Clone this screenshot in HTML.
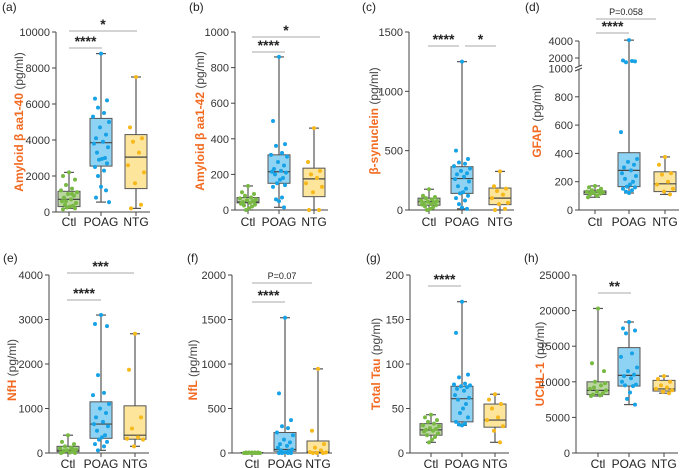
<!DOCTYPE html>
<html><head><meta charset="utf-8"><style>
html,body{margin:0;padding:0;background:#fff}
svg{display:block;font-family:"Liberation Sans",Arial,sans-serif}
</style></head><body>
<svg id="fig" width="683" height="468" viewBox="0 0 683 468"></svg>
<script>
const categories = ["Ctl","POAG","NTG"];
// box stats: [min, q1, median, q3, max] per category
const statsA = [[200,300,700,1150,2200],[550,2550,3850,5200,8800],[200,1300,3050,4300,7500]];
const statsB = [[0,40,45,70,135],[15,150,215,310,860],[0,75,175,235,460]];
const statsC = [[0,40,70,100,175],[10,140,265,365,1250],[0,45,100,185,325]];
const statsD = [[90,110,125,135,170],[120,165,280,405,4100],[110,130,185,270,375]];
const statsE = [[0,30,60,150,400],[60,330,650,1150,3100],[150,310,400,1060,2680]];
const statsF = [[0,0,0,5,5],[0,20,40,230,1520],[0,5,10,135,945]];
const statsG = [[12,20,26,33,43],[31,35,61,75,170],[12,29,37,55,66]];
const statsH = [[8000,8200,8800,10000,20300],[6800,9400,10900,14800,18400],[8400,8700,9000,10200,10800]];
// individual points
const ptsA = [[2200,2000,1800,1500,1300,1200,1100,1000,900,800,700,600,500,400,350,300,250,200,150,1000,600],[8800,6300,6200,5800,5500,5300,5000,4700,4300,4100,3900,3800,3600,3300,3000,2950,2900,2700,2500,2300,2000,1400,1200,800,550],[7500,4700,4100,3900,3300,2600,2200,1600,400,200]];
const ptsB = [[135,100,90,80,70,65,60,55,50,45,40,35,30,25,20,10,0,50,40],[860,500,370,360,320,310,300,270,250,230,220,215,210,200,180,170,150,140,130,70,60,50,15],[460,270,220,200,180,150,130,100,0,0]];
const ptsC = [[175,120,110,100,90,80,75,70,65,60,50,45,40,30,20,10,0],[1250,500,430,400,390,370,350,330,310,300,280,260,240,200,180,150,140,120,100,80,50,20,10],[325,200,180,160,130,100,60,50,10,0]];
const ptsD = [[170,160,150,140,135,130,125,120,115,110,100,90,130,120],[4100,1700,1600,1500,1650,550,360,340,320,300,280,260,240,220,200,180,165,160,150,140,130,120],[375,320,260,250,200,180,150,130,110]];
const ptsE = [[400,250,200,150,120,100,80,60,40,20,10,0,0,50,100],[3100,2900,2850,1750,1350,1300,1100,1000,900,800,700,650,600,500,400,350,300,250,200,150,60],[2680,1870,800,550,350,320,300,150]];
const ptsF = [[5,5,5,5,5,0,0,0,0,0,0,0,0,0,0],[1520,670,370,300,280,230,200,150,120,100,80,60,40,30,20,10,5,0,0,0,0],[945,250,100,60,30,10,5,0,0,0]];
const ptsG = [[43,40,37,35,33,31,30,28,27,26,25,24,22,20,18,15,12],[170,135,88,85,78,77,76,75,74,72,70,65,62,60,55,50,45,40,35,33,32,31],[66,60,55,50,40,37,30,25,12]];
const ptsH = [[20300,12600,11500,10000,9500,9000,8800,8600,8400,8200,8100,8000,9800,9200],[18400,17500,17200,16800,14000,13500,12000,11500,11000,10800,10500,10000,9600,9500,9400,8500,7600,6800],[10800,10400,10000,9500,9200,9000,8800,8600,8400]];
const ticksA=[0,2000,4000,6000,8000,10000], ticksB=[0,200,400,600,800,1000], ticksC=[0,500,1000,1500], ticksD=[0,200,400,600,800,1000,2000,4000];
const ticksE=[0,1000,2000,3000,4000], ticksF=[0,500,1000,1500,2000], ticksG=[0,50,100,150,200], ticksH=[0,5000,10000,15000,20000,25000];

const NS="http://www.w3.org/2000/svg";
const svg=document.getElementById('fig');
function mk(tag,attrs,parent,text){const e=document.createElementNS(NS,tag);for(const k in attrs)e.setAttribute(k,attrs[k]);if(text!==undefined)e.textContent=text;(parent||svg).appendChild(e);return e;}
const fills=["#b9d79f","#8ed3f3","#fde59c"], dots=["#78b843","#17a2e6","#f6b81a"];
const jit=[0,-6,6,-3,3,-8,8,-1,5,-5,2,-7,7,-4,4,1,-2,6,-6,3,-3,0,5,-5,8];

function panel(p){
  const g=mk('g',{},svg);
  
  
  const sy=p.scale;
  let t=mk('text',{x:p.lx,y:p.ly,'font-size':12,fill:'#222'},g,'('+p.id+')');
  
  // axes
  const yTop=sy(p.ticks[p.ticks.length-1]), y0=sy(0);
  let ax=mk('line',{x1:p.ax,y1:yTop,x2:p.ax,y2:y0,stroke:'#444','stroke-width':1},g);
  
  let xa=mk('line',{x1:p.ax,y1:y0,x2:p.cx[2]+14,y2:y0,stroke:'#444','stroke-width':1},g);
  
  p.ticks.forEach(v=>{const y=sy(v);
    mk('line',{x1:p.ax-4,y1:y,x2:p.ax,y2:y,stroke:'#444'},g);
    const tl=mk('text',{x:p.ax-6,y:y+4,'font-size':11,fill:'#333','text-anchor':'end'},g,String(v));
    
  });
  if(p.brk){const y=p.brk;mk('rect',{x:p.ax-4,y:y-2,width:8,height:3,fill:'#fff'},g);
    mk('line',{x1:p.ax-4,y1:y,x2:p.ax+3,y2:y-3,stroke:'#444'},g);mk('line',{x1:p.ax-4,y1:y+3,x2:p.ax+3,y2:y,stroke:'#444'},g);}
  categories.forEach((c,i)=>{const x=p.cx[i];
    mk('line',{x1:x,y1:y0,x2:x,y2:y0+4,stroke:'#444'},g);
    const cl=mk('text',{x:x,y:p.catY,'font-size':12,fill:'#222','text-anchor':'middle'},g,c);
    
    const s=p.stats[i];
    mk('line',{x1:x,y1:sy(s[0]),x2:x,y2:sy(s[4]),stroke:'#555','stroke-width':1.2},g);
    mk('line',{x1:x-5,y1:sy(s[0]),x2:x+5,y2:sy(s[0]),stroke:'#555','stroke-width':1.2},g);
    mk('line',{x1:x-5,y1:sy(s[4]),x2:x+5,y2:sy(s[4]),stroke:'#555','stroke-width':1.2},g);
    const b=mk('rect',{x:x-11,y:sy(s[3]),width:22,height:Math.max(0.5,sy(s[1])-sy(s[3])),fill:fills[i],stroke:'#555','stroke-width':1},g);
    
    mk('line',{x1:x-11,y1:sy(s[2]),x2:x+11,y2:sy(s[2]),stroke:'#444','stroke-width':1.2},g);
    p.pts[i].forEach((v,k)=>{const d=mk('circle',{cx:x+jit[k%jit.length],cy:sy(v),r:2,fill:dots[i]},g);
      });
  });
  // y title
  const tt=mk('text',{transform:`translate(${p.tx},${p.ty}) rotate(-90)`,'font-size':12,'text-anchor':'middle'},g);
  
  mk('tspan',{fill:'#f26a21','font-weight':'bold'},tt,p.title);
  mk('tspan',{fill:'#444'},tt,' (pg/ml)');
  // significance
  p.sig.forEach(s=>{const [a,b,y,lab]=s;
    mk('line',{x1:a,y1:y,x2:b,y2:y,stroke:'#aaa','stroke-width':1},g);
    const small=lab.startsWith('P');
    const st=mk('text',{x:(a+b)/2,y:small?y-4:y-2,'font-size':small?9:14,'font-weight':small?'normal':'bold',fill:'#222','text-anchor':'middle'},g,lab);
    
  });
}
function lin(v0,p0,v1,p1){return v=>p0+(v-v0)*(p1-p0)/(v1-v0);}
const top0=210, bot0=453;
panel({id:'a',lx:2,ly:11,ax:56,cx:[69,101,136],catY:226,scale:lin(0,212,10000,32),ticks:ticksA,stats:statsA,pts:ptsA,title:'Amyloid β aa1-40',tx:23,ty:122,
  sig:[[69,102,48,'****'],[69,137,31,'*']]});
panel({id:'b',lx:189,ly:11,ax:235,cx:[248,279,314],catY:226,scale:lin(0,210,1000,32),ticks:ticksB,stats:statsB,pts:ptsB,title:'Amyloid β aa1-42',tx:204,ty:121,
  sig:[[252,285,52,'****'],[252,320,37,'*']]});
panel({id:'c',lx:362,ly:11,ax:409,cx:[429,462,500],catY:226,scale:lin(0,210,1500,32),ticks:ticksC,stats:statsC,pts:ptsC,title:'β-synuclein',tx:378,ty:121,
  sig:[[428,459,46,'****'],[465,496,46,'*']]});
panel({id:'d',lx:525,ly:11,ax:579,cx:[595,629,665],catY:226,
  scale:v=>v<=1000?210-v*0.1415:66.5-(v-1000)*8.5/1000,ticks:ticksD,brk:68,stats:statsD,pts:ptsD,title:'GFAP',tx:541,ty:121,
  sig:[[596,656,19,'P=0.058'],[596,629,33,'****']]});
panel({id:'e',lx:3,ly:262,ax:49,cx:[68,101,135],catY:468,scale:lin(0,453,4000,275),ticks:ticksE,stats:statsE,pts:ptsE,title:'NfH',tx:16,ty:370,
  sig:[[67,134,273,'***'],[67,101,300,'****']]});
panel({id:'f',lx:187,ly:262,ax:232,cx:[252,285,318],catY:468,scale:lin(0,453,2000,275),ticks:ticksF,stats:statsF,pts:ptsF,title:'NfL',tx:197,ty:370,
  sig:[[252,312,283,'P=0.07'],[252,285,302,'****']]});
panel({id:'g',lx:366,ly:262,ax:410,cx:[431,462,495],catY:468,scale:lin(0,453,200,275),ticks:ticksG,stats:statsG,pts:ptsG,title:'Total Tau',tx:380,ty:364,
  sig:[[428,461,286,'****']]});
panel({id:'h',lx:524,ly:262,ax:576,cx:[598,629,664],catY:468,scale:lin(0,453,25000,275),ticks:ticksH,stats:statsH,pts:ptsH,title:'UCHL-1',tx:544,ty:364,
  sig:[[598,631,293,'**']]});
</script>
</body></html>
